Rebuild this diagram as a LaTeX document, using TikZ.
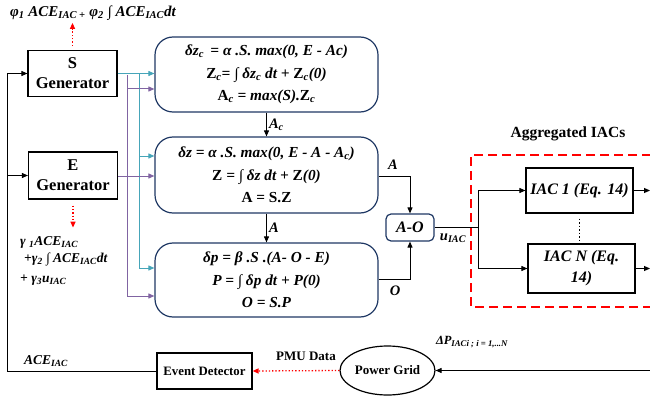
\documentclass[tikz,border=0pt]{standalone}
\usepackage{fontspec}
\setmainfont{Liberation Serif}
\usetikzlibrary{arrows.meta,shapes.geometric}
\newcommand{\sbs}[1]{\textsubscript{#1}}
\newcommand{\up}[1]{\textup{#1}}
\definecolor{tealc}{RGB}{70,165,185}
\definecolor{purp}{RGB}{128,100,162}
\definecolor{navy}{RGB}{31,56,100}
\begin{document}
\begin{tikzpicture}[x=1pt,y=-1pt,
  genbox/.style={draw,line width=1.2pt,minimum width=89pt,minimum height=46pt,align=center,font=\fontsize{16.5}{20}\selectfont\bfseries,inner sep=0pt},
  eqbox/.style={draw=navy,line width=1.2pt,rounded corners=18pt,minimum width=223pt,minimum height=75pt,align=center,font=\fontsize{15.3}{22.5}\selectfont\bfseries\itshape,inner sep=0pt},
  aobox/.style={draw=navy,line width=1.2pt,rounded corners=5pt,minimum width=48pt,minimum height=27pt,font=\fontsize{16}{18}\selectfont\bfseries\itshape,inner sep=0pt},
  iacbox/.style={draw,line width=1.2pt,minimum width=107pt,align=center,font=\fontsize{16}{21}\selectfont\bfseries\itshape,inner sep=0pt},
  plainbox/.style={draw,line width=1.2pt,inner sep=0pt,font=\fontsize{12.8}{15}\selectfont\bfseries},
  arr/.style={line width=1pt,-{Triangle[length=6pt,width=5pt]}},
  tarr/.style={tealc,line width=1pt,-{Triangle[length=6pt,width=5pt]}},
  parr/.style={purp,line width=1pt,-{Triangle[length=6pt,width=5pt]}},
  rdot/.style={red,line width=1.3pt,dotted,-{Triangle[length=6pt,width=5pt]}},
  lbl/.style={font=\fontsize{14.5}{16}\selectfont\bfseries\itshape,inner sep=0pt}
]
\useasboundingbox (0,0) rectangle (650,401);

% generators
\node[genbox] (S) at (72.5,73.5) {S\\Generator};
\node[genbox,minimum height=47pt] (E) at (73,175.5) {E\\Generator};

% equation boxes
\node[eqbox] (B1) at (266.5,74.5) {δz\sbs{c}\ \,= α .S. max(0, E - Ac)\\
  \up{Z}\sbs{c}= ∫ δz\sbs{c} dt + \up{Z}\sbs{c}(0)\\
  \up{A}\sbs{c} = max(S).\up{Z}\sbs{c}};
\node[eqbox,minimum height=76pt] (B2) at (266.5,175) {δz = α .S. max(0, E - A - A\sbs{c})\\
  \up{Z} = ∫ δz dt + \up{Z}(0)\\
  \up{A = S.Z}};
\node[eqbox,minimum height=74pt] (B3) at (266.5,280) {δp = β .S .(A- O - E)\\
  P = ∫ δp dt + P(0)\\
  O = S.P};

\node[aobox] (AO) at (410,227.5) {A-O};

% IACs
\node[iacbox,minimum height=45pt] (I1) at (579.5,190.5) {IAC 1 (Eq. 14)};
\node[iacbox,minimum height=49pt] (IN) at (581.5,268.5) {IAC N (Eq.\\14)};
\node[font=\fontsize{15.5}{18}\selectfont\bfseries] (agg) at (568,134) {Aggregated IACs};
\draw[red,line width=1.2pt,dash pattern=on 9pt off 5pt] (665,155) -- (471,155) -- (471,307) -- (665,307);

% bottom row
\node[plainbox,minimum width=95pt,minimum height=36pt] (ED) at (204.5,371) {Event Detector};
\node[draw,ellipse,line width=1.2pt,minimum width=95pt,minimum height=49pt,inner sep=0pt,font=\fontsize{13}{15}\selectfont\bfseries] (PG) at (387.5,370.5) {Power Grid};
\coordinate (pin) at (651,370.5);
\draw[arr] (pin) -- (PG.east);
\node[lbl,font=\fontsize{12.5}{14}\selectfont\bfseries\itshape] (dp) at (472,342) {ΔP\sbs{IACi ; i = 1,...N}};
\draw[rdot] (PG.west) -- (ED.east);
\node[font=\fontsize{13}{15}\selectfont\bfseries] (pmu) at (306,356) {PMU Data};

% feedback line
\coordinate (c1) at (7,371);
\coordinate (c2) at (7,73.5);
\coordinate (c3) at (7,175.5);
\draw[arr] (ED.west) -- (c1) -- (c2) -- (S.west);
\draw[arr] (c3) -- (E.west);
\node[lbl,font=\fontsize{13.5}{15}\selectfont\bfseries\itshape] (ace) at (46,361) {ACE\sbs{IAC}};

% teal connections
\coordinate (t0) at (139,73.5);
\coordinate (t2) at (139,156);
\coordinate (t3) at (139,268);
\draw[tarr] (S.east) -- (B1.west |- S.east);
\draw[tealc,line width=1pt] (t0) -- (t3);
\draw[tarr] (t2) -- (B2.west |- t2);
\draw[tarr] (t3) -- (B3.west |- t3);

% purple connections
\coordinate (p0) at (127,75);
\coordinate (p1) at (127,89);
\coordinate (p3) at (127,296);
\draw[purp,line width=1pt] (p0) -- (p3);
\draw[parr] (p1) -- (B1.west |- p1);
\draw[parr] (E.east |- 0,176) -- (B2.west |- 0,176);
\draw[parr] (p3) -- (B3.west |- p3);

% vertical arrows between boxes
\draw[arr] (B1.south) -- (B2.north) node[lbl,midway,right=2pt] {A\sbs{c}};
\draw[arr] (B2.south) -- (B3.north) node[lbl,midway,right=2pt] {A};

% to A-O
\draw[arr] (B2.east |- 0,176) -| (AO.north);
\node[lbl] (la) at (393,165) {A};
\draw[arr] (B3.east |- 0,279) -| (AO.south);
\node[lbl] (lo) at (395,291) {O};
\coordinate (br) at (478,227.5);
\draw[line width=1pt] (AO.east) -- (br);
\node[lbl] (lu) at (453,238) {u\sbs{IAC}};
\draw[arr] (br) |- (I1.west);
\draw[arr] (br) |- (IN.west);
\draw[line width=1.5pt,dotted] ([yshift=-5pt]I1.south) -- ([yshift=-27pt]I1.south);
\coordinate (o1) at (650,190.5);
\coordinate (o2) at (650,268.5);
\draw[arr] (I1.east) -- (o1);
\draw[arr] (IN.east) -- (o2);

% red dotted feedback text arrows
\draw[rdot] ([yshift=4pt]S.north) -- ([yshift=27pt]S.north);
\node[lbl,font=\fontsize{15}{17}\selectfont\bfseries\itshape] (phi) at (93,13) {φ\sbs{1} ACE\sbs{IAC +} φ\sbs{2} ∫ ACE\sbs{IAC}dt};
\draw[rdot] ([yshift=-6pt]E.south) -- ([yshift=-28pt]E.south);
\node[lbl,font=\fontsize{13.5}{15}\selectfont\bfseries\itshape,anchor=west] (g1) at (20,242) {γ \sbs{1}ACE\sbs{IAC}};
\node[lbl,font=\fontsize{13.5}{15}\selectfont\bfseries\itshape,anchor=west] (g2) at (24,259) {+γ\sbs{2} ∫ ACE\sbs{IAC}dt};
\node[lbl,font=\fontsize{13.5}{15}\selectfont\bfseries\itshape,anchor=west] (g3) at (20,280) {+ γ\sbs{3}u\sbs{IAC}};
\end{tikzpicture}
\end{document}
